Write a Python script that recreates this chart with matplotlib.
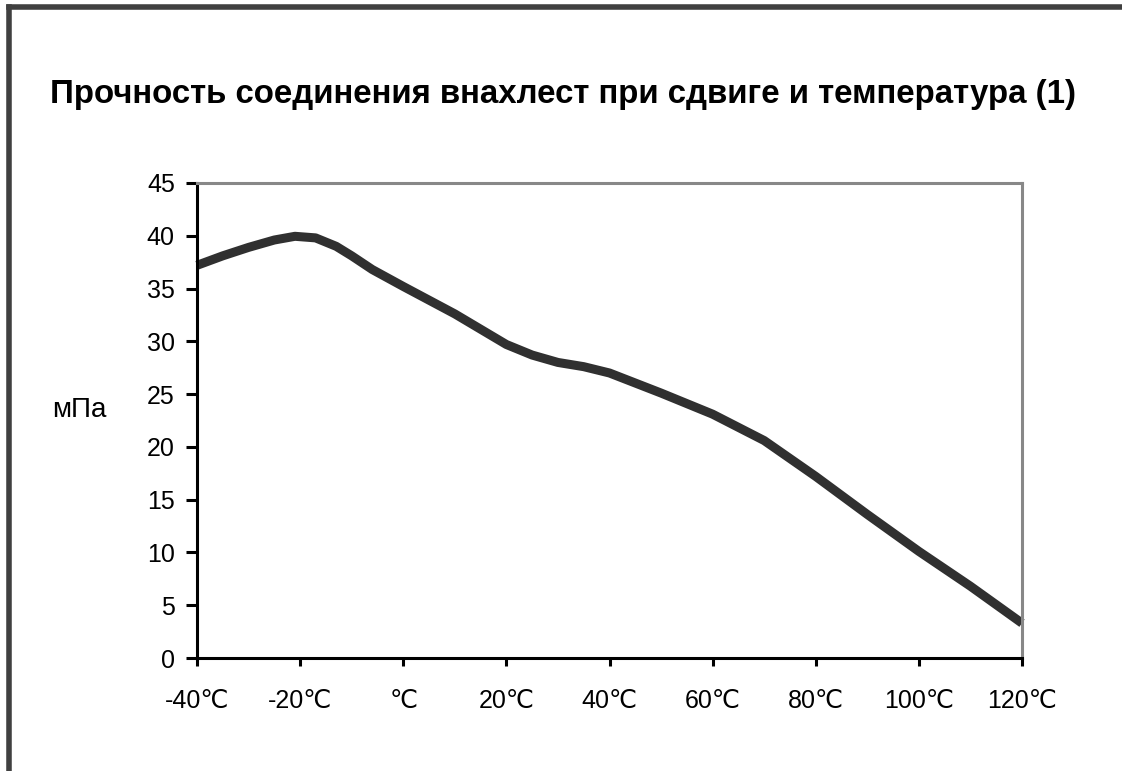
import matplotlib
matplotlib.use("Agg")
import matplotlib.pyplot as plt
from matplotlib.lines import Line2D

# Данные
temps = [-40, -35, -30, -25, -21, -17, -13, -10, -6, 0, 10, 20, 25, 30, 35, 40, 50, 60, 70,
         80, 90, 100, 110, 120]
strength = [37.2, 38.1, 38.9, 39.6, 39.95, 39.8, 39.0, 38.1, 36.8, 35.2, 32.6, 29.7, 28.7,
            28.0, 27.6, 27.0, 25.1, 23.1, 20.6, 17.2, 13.6, 10.1, 6.8, 3.3]
x_ticks = [-40, -20, 0, 20, 40, 60, 80, 100, 120]
x_labels = ["-40\u2103", "-20\u2103", "\u2103", "20\u2103", "40\u2103", "60\u2103",
            "80\u2103", "100\u2103", "120\u2103"]
y_ticks = [0, 5, 10, 15, 20, 25, 30, 35, 40, 45]

title = "Прочность соединения внахлест при сдвиге и температура (1)"
y_label = "мПа"

plt.rcParams['font.family'] = ['Liberation Sans', 'DejaVu Sans']

W, H = 1122, 771
fig = plt.figure(figsize=(W / 100, H / 100), dpi=100)

# рамка слева и сверху
fig.add_artist(Line2D([9 / W, 1.0], [1 - 7 / H, 1 - 7 / H], color="#404040", lw=4,
                      solid_capstyle="projecting", transform=fig.transFigure))
fig.add_artist(Line2D([9 / W, 9 / W], [0.0, 1 - 7 / H], color="#404040", lw=4,
                      solid_capstyle="projecting", transform=fig.transFigure))

fig.text(50 / W, 1 - 95 / H, title, fontsize=23.8, fontweight="bold", va="center", ha="left")

ax = fig.add_axes([197 / W, (H - 658) / H, (1022 - 197) / W, (658 - 183) / H])
ax.plot(temps, strength, color="#303030", lw=6.5, solid_capstyle="butt", solid_joinstyle="round",
        clip_on=False)
ax.set_xlim(-40, 120)
ax.set_ylim(0, 45)

ax.set_xticks(x_ticks)
ax.set_xticklabels(x_labels)
ax.set_yticks(y_ticks)

for s in ["left", "bottom"]:
    ax.spines[s].set_color("black")
    ax.spines[s].set_linewidth(2.2)
for s in ["top", "right"]:
    ax.spines[s].set_color("#888888")
    ax.spines[s].set_linewidth(2.2)

ax.tick_params(axis="y", direction="out", length=8, width=2.2, labelsize=18, pad=8)
ax.tick_params(axis="x", direction="out", length=6, width=2.2, labelsize=18, pad=16)

fig.text(52 / W, 1 - 410 / H, y_label, fontsize=20, va="center", ha="left")

fig.savefig("out.png", dpi=100, facecolor="white")
